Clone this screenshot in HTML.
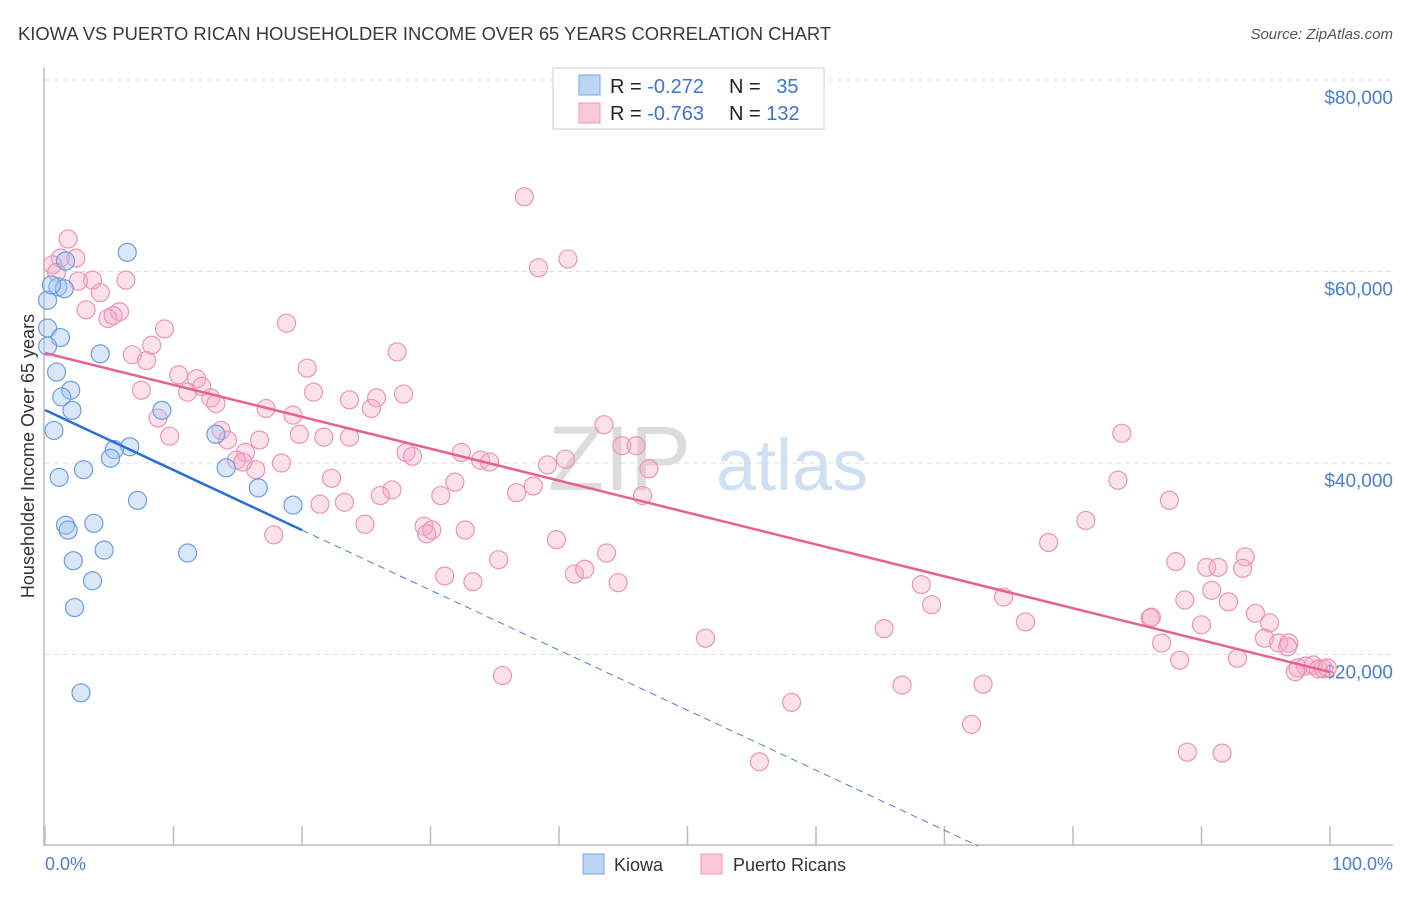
<!DOCTYPE html>
<html><head><meta charset="utf-8">
<style>
body{margin:0;background:#fff;width:1406px;height:892px;overflow:hidden;font-family:"Liberation Sans",sans-serif;}
svg text{font-family:"Liberation Sans",sans-serif;}
</style></head>
<body>
<svg id="chart" width="1406" height="892" xmlns="http://www.w3.org/2000/svg">
<text x="18" y="40" font-size="18.4" fill="#3a3a3a">KIOWA VS PUERTO RICAN HOUSEHOLDER INCOME OVER 65 YEARS CORRELATION CHART</text>
<text x="1393" y="39" font-size="15" fill="#555" text-anchor="end" font-style="italic">Source: ZipAtlas.com</text>
<g>
<text x="548" y="490" font-size="92" fill="#dcdcdc" font-family="Liberation Serif, serif">ZIP</text>
<text x="716" y="490" font-size="72" fill="#cfe0f3">atlas</text>
</g>
<g id="grid"></g>
<g id="axes"></g>
<g id="lines"></g>
<g id="pts"></g>
<text transform="translate(34,456) rotate(-90)" font-size="18" fill="#333" text-anchor="middle">Householder Income Over 65 years</text>
<text x="45" y="870" font-size="18" fill="#4a7fd0">0.0%</text>
<text x="1393" y="870" font-size="18" fill="#4a7fd0" text-anchor="end">100.0%</text>
<g>
<rect x="553" y="68" width="271" height="61" fill="#fff" stroke="#ccc"/>
<rect x="579" y="75" width="21" height="20" fill="#bcd5f5" stroke="#7aa5e0"/>
<rect x="579" y="103" width="21" height="20" fill="#fac8d8" stroke="#ec9ab8"/>
<text x="610" y="93" font-size="20" fill="#222">R = <tspan fill="#3f74d0">-0.272</tspan></text>
<text x="729" y="93" font-size="20" fill="#222">N = <tspan fill="#3f74d0" dx="10">35</tspan></text>
<text x="610" y="120" font-size="20" fill="#222">R = <tspan fill="#3f74d0">-0.763</tspan></text>
<text x="729" y="120" font-size="20" fill="#222">N = <tspan fill="#3f74d0">132</tspan></text>
</g>
<g>
<rect x="583" y="854" width="21" height="20" fill="#bcd5f5" stroke="#7aa5e0"/>
<text x="614" y="871" font-size="18" fill="#333">Kiowa</text>
<rect x="701" y="854" width="21" height="20" fill="#fac8d8" stroke="#ec9ab8"/>
<text x="733" y="871" font-size="18" fill="#333">Puerto Ricans</text>
</g>
</svg>
<script>
const yTicks=[20000,40000,60000,80000];
const yTickLabels=["$20,000","$40,000","$60,000","$80,000"];
const xTicks=[0,10,20,30,40,50,60,70,80,90,100];
const kiowaX=[6.4,1.6,1.0,1.5,0.2,0.2,1.2,0.2,4.3,0.9,2.0,1.3,2.1,9.1,0.7,13.3,6.6,5.4,5.1,14.1,3.0,1.1,16.6,7.2,19.3,3.8,1.6,1.8,4.6,11.1,2.2,3.7,2.3,2.8,0.5];
const kiowaY=[62.0,61.1,58.4,58.2,57.0,54.1,53.1,52.2,51.4,49.5,47.6,46.9,45.5,45.5,43.4,43.0,41.7,41.4,40.5,39.5,39.3,38.5,37.4,36.1,35.6,33.7,33.5,33.0,30.9,30.6,29.8,27.7,24.9,16.0,58.6];
const prX=[1.8,1.2,2.4,0.6,0.9,3.7,6.3,2.6,4.3,3.2,5.8,4.9,5.3,18.8,9.3,8.3,6.8,7.9,27.4,20.4,10.4,11.8,7.5,11.1,12.2,12.9,13.3,20.9,27.9,23.7,25.8,17.2,19.3,25.4,8.8,9.7,13.7,14.2,19.8,21.7,23.7,16.7,15.6,14.9,15.4,28.1,28.6,32.4,33.9,34.6,18.4,16.4,39.1,40.5,31.9,27.0,26.1,22.3,30.8,36.7,38.0,21.4,23.3,46.5,43.5,44.9,46.0,47.0,37.3,38.4,40.7,24.9,29.5,30.1,29.7,32.7,39.8,17.8,35.3,43.7,31.1,33.3,41.2,42.0,44.6,35.6,51.4,58.1,55.6,66.7,65.3,68.2,69.0,72.1,73.0,74.6,76.3,78.1,81.0,83.8,83.5,87.5,88.0,90.4,91.3,90.8,92.1,93.4,93.2,94.2,95.3,86.0,86.1,86.9,88.3,92.8,88.9,91.6,94.9,96.0,96.8,96.7,97.5,98.1,98.7,99.1,99.5,99.8,97.3,90.0,88.7];
const prY=[63.4,61.4,61.4,60.7,59.9,59.1,59.1,59.0,57.8,56.0,55.8,55.1,55.4,54.6,54.0,52.3,51.3,50.7,51.6,49.9,49.2,48.8,47.6,47.4,48.0,46.8,46.2,47.4,47.2,46.6,46.8,45.7,45.0,45.7,44.7,42.8,43.4,42.4,43.0,42.7,42.7,42.4,41.1,40.3,40.1,41.1,40.7,41.1,40.3,40.1,40.0,39.3,39.8,40.4,38.0,37.2,36.6,38.4,36.6,36.9,37.6,35.7,35.9,36.6,44.0,41.8,41.8,39.4,67.8,60.4,61.3,33.6,33.4,33.0,32.6,33.0,32.0,32.5,29.9,30.6,28.2,27.6,28.4,28.9,27.5,17.8,21.7,15.0,8.8,16.8,22.7,27.3,25.2,12.7,16.9,26.0,23.4,31.7,34.0,43.1,38.2,36.1,29.7,29.1,29.1,26.7,25.5,30.2,29.0,24.3,23.3,23.8,23.9,21.2,19.4,19.6,9.8,9.7,21.7,21.2,21.2,20.8,18.6,18.8,18.9,18.5,18.5,18.6,18.2,23.1,25.7];
const kiowaTrend=[45535,-627];
const kiowaSolidEnd=[20];
const prTrend=[51488,-333.2];

const NS="http://www.w3.org/2000/svg";
function sx(p){return 45+p*12.85;}
function sy(v){return 846-v*0.009575;}
function mk(tag,attrs,parent){const e=document.createElementNS(NS,tag);for(const k in attrs)e.setAttribute(k,attrs[k]);parent.appendChild(e);return e;}
const grid=document.getElementById('grid'),axes=document.getElementById('axes'),lines=document.getElementById('lines'),pts=document.getElementById('pts');
yTicks.forEach((t,i)=>{
  const l=mk('line',{x1:45,x2:1393,y1:sy(t),y2:sy(t),stroke:'#ddd','stroke-dasharray':'5,4'},grid);
  
  
  const tx=mk('text',{x:1393,y:sy(t)+24,'font-size':19,fill:'#4a7fd0','text-anchor':'end'},axes);
  tx.textContent=yTickLabels[i];
  
  
});
const la=mk('line',{x1:44,x2:44,y1:68,y2:846,stroke:'#bbb','stroke-width':1.5},axes);


const lb=mk('line',{x1:44,x2:1393,y1:845,y2:845,stroke:'#bbb','stroke-width':1.5},axes);


xTicks.forEach(t=>{
  const l=mk('line',{x1:sx(t),x2:sx(t),y1:826,y2:845,stroke:'#bbb','stroke-width':1.5},axes);
  
  
});
function tv(tr,p){return tr[0]+tr[1]*p;}
let zeroP=-kiowaTrend[0]/kiowaTrend[1];
const kd=mk('line',{x1:sx(kiowaSolidEnd[0]),y1:sy(tv(kiowaTrend,kiowaSolidEnd[0])),x2:sx(zeroP),y2:sy(0),stroke:'#4a80d8','stroke-width':1,'stroke-dasharray':'7,5'},lines);


function dots(xs,ys,fill,stroke,name){
  xs.forEach((x,i)=>{
    const c=mk('circle',{cx:sx(x),cy:sy(ys[i]*1000),r:9,fill:fill,stroke:stroke,'stroke-width':1.2},pts);
    
    
  });
}
dots(prX,prY,'rgba(246,170,198,0.35)','#ec94b4','puerto-rican-point');
dots(kiowaX,kiowaY,'rgba(160,196,240,0.4)','#6c9ee0','kiowa-point');
const ks=mk('line',{x1:sx(0),y1:sy(tv(kiowaTrend,0)),x2:sx(kiowaSolidEnd[0]),y2:sy(tv(kiowaTrend,kiowaSolidEnd[0])),stroke:'#2a6fd6','stroke-width':2.5},pts);


const pl=mk('line',{x1:sx(0),y1:sy(tv(prTrend,0)),x2:sx(100),y2:sy(tv(prTrend,100)),stroke:'#e8608e','stroke-width':2.5},pts);


</script>
</body></html>
